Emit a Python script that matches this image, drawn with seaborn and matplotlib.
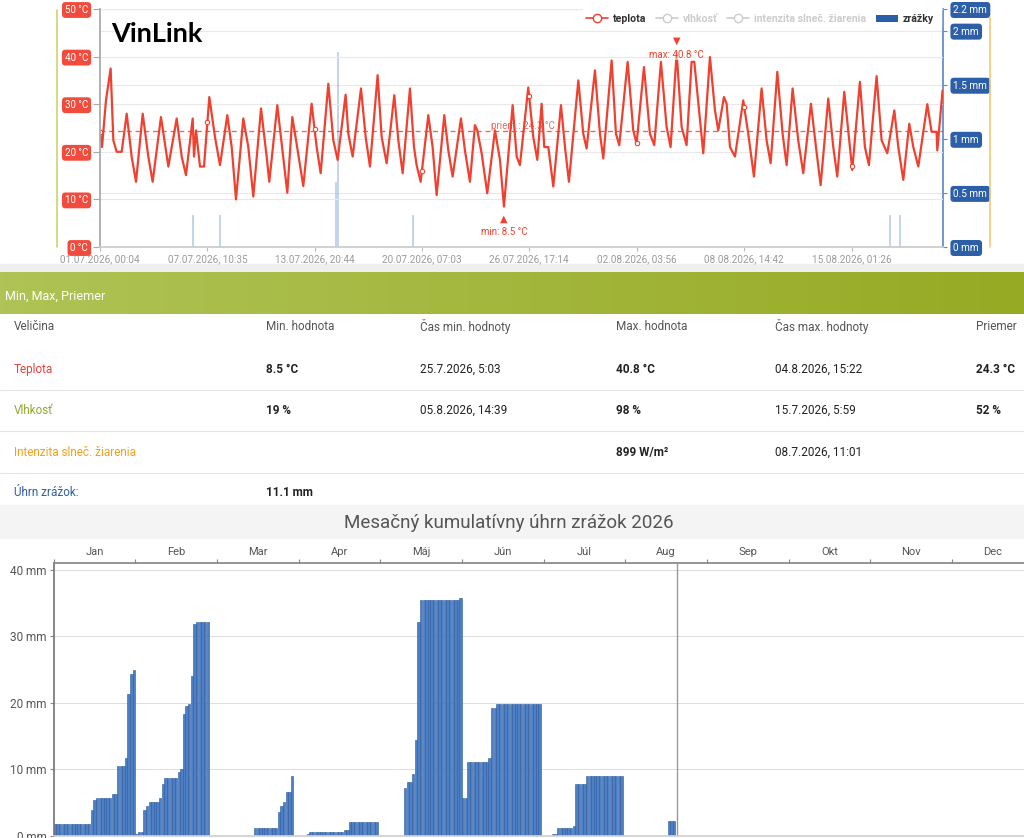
import numpy as np
import pandas as pd
import matplotlib
matplotlib.use("Agg")
import matplotlib.pyplot as plt
import matplotlib.dates as mdates
import seaborn as sns
from matplotlib.lines import Line2D
from matplotlib.patches import Patch, Rectangle
from matplotlib.colors import LinearSegmentedColormap

# ---------------- data: temperature chart ----------------
start_time = "2026-07-01 00:04"
end_time = "2026-08-20 12:35"
temp_hours = [0, 2.9, 8.6, 15.3, 19.2, 24.0, 31.2, 38.4, 45.5, 51.8, 61.4, 69.5, 75.7, 87.7,
              98.3, 110.3, 117.5, 123.7, 133.3, 135.2, 138.1, 143.8, 149.6, 157.2, 165.4, 172.6,
              183.1, 189.4, 195.6, 206.1, 213.3, 220.5, 231.6, 239.7, 243.5, 255.0, 261.3, 269.4,
              276.6, 282.8, 292.4, 304.4, 311.6, 317.4, 328.4, 335.6, 341.8, 353.3, 357.2, 363.4,
              375.4, 382.1, 388.3, 399.3, 405.1, 412.3, 423.3, 429.1, 435.3, 445.8, 451.6, 455.4,
              461.2, 472.2, 478.4, 484.2, 495.2, 501.0, 507.2, 519.2, 524.9, 532.1, 539.3, 542.7,
              548.9, 557.0, 568.1, 575.3, 581.0, 593.5, 599.3, 604.0, 616.0, 623.2, 629.0, 635.2,
              639.0, 644.8, 652.0, 663.0, 668.8, 674.5, 688.0, 695.1, 699.9, 711.9, 719.1, 723.9,
              735.9, 742.1, 746.9, 758.9, 767.0, 771.8, 782.4, 791.0, 797.2, 806.8, 815.0, 820.7,
              829.4, 836.6, 843.7, 850.9, 854.8, 867.7, 877.3, 884.5, 889.3, 897.4, 901.3, 906.1,
              913.3, 925.2, 932.4, 940.6, 951.6, 958.8, 964.6, 974.2, 981.8, 987.6, 996.2, 1004.3,
              1011.5, 1022.6, 1029.8, 1036.5, 1047.5, 1054.7, 1060.4, 1070.5, 1077.7, 1082.0, 1093.0,
              1100.2, 1106.0, 1117.0, 1124.2, 1132.4, 1142.5, 1148.2, 1155.4, 1164.0, 1169.8, 1177.0,
              1189.9, 1196.1, 1203.3, 1204.3, 1211.9]
temp_values = [24.2, 21.0, 30.8, 37.5, 22.4, 20.0, 20.0, 28.0, 19.0, 13.7, 28.0, 19.0, 13.7, 27.3,
               16.9, 27.0, 19.0, 15.1, 27.0, 19.0, 24.5, 16.9, 16.9, 31.5, 23.1, 17.2,
               27.7, 21.0, 10.0, 27.0, 21.0, 10.6, 29.1, 19.0, 13.7, 29.8, 21.7, 11.4,
               27.3, 21.7, 12.8, 30.1, 21.0, 15.5, 34.3, 22.4, 18.3, 32.0, 23.8, 19.0,
               33.3, 23.1, 16.9, 36.1, 23.1, 17.6, 31.9, 22.4, 15.5, 33.3, 21.0, 17.2,
               13.7, 27.7, 21.0, 10.9, 27.7, 20.3, 14.8, 27.0, 20.3, 13.7, 25.6, 24.5,
               19.7, 11.3, 24.5, 18.3, 8.5, 29.8, 19.0, 17.2, 33.5, 23.1, 18.3, 30.1,
               21.0, 21.0, 12.7, 29.8, 21.0, 13.7, 35.0, 23.8, 20.7, 37.1, 23.8, 18.6,
               39.2, 23.8, 21.4, 38.9, 24.5, 21.7, 37.8, 23.8, 21.4, 38.9, 25.2, 21.0,
               40.8, 25.2, 21.4, 38.9, 38.9, 19.7, 39.9, 28.7, 24.5, 31.5, 30.1, 21.0,
               19.0, 30.8, 23.8, 14.8, 33.3, 22.4, 17.6, 36.8, 23.8, 17.2, 33.3, 22.4,
               15.5, 30.1, 21.0, 13.0, 31.2, 21.0, 14.8, 32.6, 22.4, 16.2, 34.7,
               21.0, 17.2, 35.9, 22.4, 19.7, 28.7, 21.0, 14.1, 25.9, 21.0, 16.9,
               30.0, 24.2, 24.2, 20.3, 32.9]
temp_avg = 24.3
rain_hours = [133.8, 172.6, 339.4, 342.3, 450.2, 1136.2, 1150.7]
rain_mm = [0.3, 0.3, 0.6, 1.8, 0.3, 0.3, 0.3]
x_tick_labels = ["01.07.2026, 00:04", "07.07.2026, 10:35", "13.07.2026, 20:44",
                 "20.07.2026, 07:03", "26.07.2026, 17:14", "02.08.2026, 03:56",
                 "08.08.2026, 14:42", "15.08.2026, 01:26"]
temp_ticks = [0, 10, 20, 30, 40, 50]
rain_ticks = [0, 0.5, 1, 1.5, 2, 2.2]
legend_labels = ["teplota", "vlhkosť", "intenzita slneč. žiarenia", "zrážky"]
brand = "VinLink"

# ---------------- data: table ----------------
table_title = "Min, Max, Priemer"
table_header = ["Veličina", "Min. hodnota", "Čas min. hodnoty", "Max. hodnota", "Čas max. hodnoty", "Priemer"]
row_teplota = ["Teplota", "8.5 °C", "25.7.2026, 5:03", "40.8 °C", "04.8.2026, 15:22", "24.3 °C"]
row_vlhkost = ["Vlhkosť", "19 %", "05.8.2026, 14:39", "98 %", "15.7.2026, 5:59", "52 %"]
row_ziarenie = ["Intenzita slneč. žiarenia", "", "", "899 W/m²", "08.7.2026, 11:01", ""]
row_zrazky = ["Úhrn zrážok:", "11.1 mm", "", "", "", ""]

# ---------------- data: monthly cumulative rain ----------------
bar_title = "Mesačný kumulatívny úhrn zrážok 2026"
months = ["Jan", "Feb", "Mar", "Apr", "Máj", "Jún", "Júl", "Aug", "Sep", "Okt", "Nov", "Dec"]
jan_mm = [1.8, 1.8, 1.8, 1.8, 1.8, 1.8, 1.8, 1.8, 1.8, 1.8, 1.8, 1.8, 1.8, 1.8, 3.9, 5.4,
          5.7, 5.7, 5.7, 5.7, 5.7, 5.7, 6.3, 6.3, 10.5, 10.5, 10.5, 11.7, 21.3, 24.3, 24.9]
feb_mm = [0.3, 0.6, 0.6, 3.9, 4.5, 5.1, 5.1, 5.1, 5.1, 5.7, 7.8, 8.7, 8.7, 8.7, 8.7, 8.7,
          9.6, 10.0, 18.3, 19.5, 19.8, 24.0, 31.8, 32.1, 32.1, 32.1, 32.1, 32.1]
mar_mm = [0, 0, 0, 0, 0, 0, 0, 0, 0, 0, 0, 0, 0, 0, 1.2, 1.2, 1.2, 1.2, 1.2, 1.2, 1.2, 1.2,
          1.2, 3.6, 4.5, 5.1, 6.6, 6.6, 9.0, 0, 0]
apr_mm = [0, 0, 0, 0.3, 0.6, 0.6, 0.6, 0.6, 0.6, 0.6, 0.6, 0.6, 0.6, 0.6, 0.6, 0.6, 0.6,
          0.9, 0.9, 2.1, 2.1, 2.1, 2.1, 2.1, 2.1, 2.1, 2.1, 2.1, 2.1, 2.1]
may_mm = [0, 0, 0, 0, 0, 0, 0, 0, 0, 7.2, 8.1, 8.1, 9.3, 14.4, 32.1, 35.4, 35.4, 35.4, 35.4,
          35.4, 35.4, 35.4, 35.4, 35.4, 35.4, 35.4, 35.4, 35.4, 35.4, 35.4, 35.7]
jun_mm = [5.7, 5.7, 11.1, 11.1, 11.1, 11.1, 11.1, 11.1, 11.1, 11.1, 11.7, 19.2, 19.2, 19.8,
          19.8, 19.8, 19.8, 19.8, 19.8, 19.8, 19.8, 19.8, 19.8, 19.8, 19.8, 19.8, 19.8, 19.8,
          19.8, 19.8]
jul_mm = [0, 0, 0, 0.3, 0.3, 1.2, 1.2, 1.2, 1.2, 1.2, 1.2, 1.5, 7.8, 7.8, 7.8, 7.8, 9.0, 9.0,
          9.0, 9.0, 9.0, 9.0, 9.0, 9.0, 9.0, 9.0, 9.0, 9.0, 9.0, 9.0, 0]
aug_mm = [0, 0, 0, 0, 0, 0, 0, 0, 0, 0, 0, 0, 0, 0, 0, 0, 2.2, 2.2, 2.2]
monthly_mm = [jan_mm, feb_mm, mar_mm, apr_mm, may_mm, jun_mm, jul_mm, aug_mm]
bar_ticks = [0, 10, 20, 30, 40]

# ---------------- style ----------------
RED = "#f0402f"
BLUE = "#2b5ea8"
W, H = 1024, 838
sns.set_theme(style="white")
plt.rcParams["font.family"] = ["Roboto", "DejaVu Sans"]

fig = plt.figure(figsize=(W / 100, H / 100), dpi=100)
fig.patch.set_facecolor("white")


def box(l, t, r, b):
    return [l / W, 1 - b / H, (r - l) / W, (b - t) / H]


def fy(y):
    return 1 - y / H


# ================= top chart =================
t0 = pd.Timestamp(start_time)
t1 = pd.Timestamp(end_time)
temp_df = pd.DataFrame({"time": t0 + pd.to_timedelta(temp_hours, unit="h"), "temp": temp_values})
rain_times = t0 + pd.to_timedelta(rain_hours, unit="h")
tick_times = pd.to_datetime(x_tick_labels, format="%d.%m.%Y, %H:%M")

ax = fig.add_axes(box(100, 9, 943, 247))
ax2 = ax.twinx()
ax.set_zorder(2)
ax.patch.set_visible(False)

sns.lineplot(data=temp_df, x="time", y="temp", ax=ax, color=RED, linewidth=1.6)
ax.set_xlim(t0, t1)
ax.set_ylim(0, 50)
ax.set_xlabel("")
ax.set_ylabel("")
ax.axhline(temp_avg, color=RED, lw=0.9, ls=(0, (4, 3)), alpha=0.85)

# hollow markers at tick times
tick_h = (tick_times - t0) / pd.Timedelta(hours=1)
mk_y = np.interp(np.asarray(tick_h, dtype=float), temp_hours, temp_values)
ax.plot(mdates.date2num(tick_times), mk_y, ls="none", marker="o", ms=3.2,
        mfc="white", mec=RED, mew=0.8)

ax2.vlines(rain_times, 0, rain_mm, color="#6f97d2", lw=1.3, alpha=0.45)
ax2.set_ylim(0, 2.2)

ax.set_yticks(temp_ticks)
ax.set_yticklabels([f"{v} °C" for v in temp_ticks])
ax2.set_yticks(rain_ticks)
ax2.set_yticklabels([f"{v:g} mm" for v in rain_ticks])
ax.set_xticks(mdates.date2num(tick_times))
ax.set_xticklabels(x_tick_labels)

ax.grid(axis="y", color="#e8e8e8", lw=0.8)
ax.grid(axis="x", visible=False)
ax2.grid(axis="y", color="#e8e8e8", lw=0.8)
ax2.grid(axis="x", visible=False)

for s in ["top", "right"]:
    ax.spines[s].set_visible(False)
ax.spines["left"].set_color("#a8a8a8")
ax.spines["bottom"].set_color("#cccccc")
for s in ["top", "left", "bottom"]:
    ax2.spines[s].set_visible(False)
ax2.spines["right"].set_color("#5b8ad0")

ax.tick_params(axis="y", left=True, length=5, width=0.8, color="#a8a8a8", pad=3.5,
               labelsize=7, labelcolor="white")
ax.tick_params(axis="x", bottom=True, length=3, width=0.8, color="#bbbbbb", pad=2,
               labelsize=7.2, labelcolor="#9a9a9a")
ax2.tick_params(axis="y", right=True, length=3, width=0.8, color="#5b8ad0", pad=4.5,
                labelsize=7.2, labelcolor="white")
for lbl in ax.get_yticklabels():
    lbl.set_bbox(dict(boxstyle="round,pad=0.3,rounding_size=0.35", fc="#f04b3c", ec="none"))
for lbl in ax2.get_yticklabels():
    lbl.set_bbox(dict(boxstyle="round,pad=0.3,rounding_size=0.35", fc="#2d5fa8", ec="none"))

# min / max / average annotations
i_max = int(np.argmax(temp_values))
i_min = int(np.argmin(temp_values))
x_max = mdates.date2num(temp_df["time"].iloc[i_max])
x_min = mdates.date2num(temp_df["time"].iloc[i_min])
v_max = temp_values[i_max]
v_min = temp_values[i_min]
ax.annotate(f"max: {v_max} °C", xy=(x_max, v_max), xytext=(0, -1.5), textcoords="offset points",
            ha="center", va="center", color=RED, fontsize=7, annotation_clip=False,
            bbox=dict(boxstyle="square,pad=0.05", fc="white", ec="none", alpha=0.6))
ax.annotate("▼", xy=(x_max, v_max), xytext=(0, 8.5), textcoords="offset points",
            ha="center", va="center", color=RED, fontsize=7, family="DejaVu Sans",
            annotation_clip=False)
ax.annotate(f"min: {v_min} °C", xy=(x_min, v_min), xytext=(0, -18.5), textcoords="offset points",
            ha="center", va="center", color=RED, fontsize=7, annotation_clip=False)
ax.annotate("▲", xy=(x_min, v_min), xytext=(0, -8.5), textcoords="offset points",
            ha="center", va="center", color=RED, fontsize=7, family="DejaVu Sans",
            annotation_clip=False)
ax.text(0.54, temp_avg, f"priem.: {temp_avg} °C", transform=ax.get_yaxis_transform(),
        ha="right", va="bottom", color=RED, fontsize=7, alpha=0.8)

# side decorations (hidden series axes)
fig.add_artist(Line2D([57 / W, 57 / W], [fy(10), fy(247)], color="#c9d670", lw=1.2))
fig.add_artist(Line2D([990 / W, 990 / W], [fy(17), fy(247)], color="#f7c877", lw=1.2))

# legend
fig.add_artist(Rectangle((583 / W, fy(27)), (941 - 583) / W, 27 / H, transform=fig.transFigure,
                         color="white", zorder=3))
handles = [
    Line2D([], [], color=RED, lw=1.2, marker="o", ms=6, mfc="white", mec=RED),
    Line2D([], [], color="#cccccc", lw=1.2, marker="o", ms=6, mfc="white", mec="#cccccc"),
    Line2D([], [], color="#cccccc", lw=1.2, marker="o", ms=6, mfc="white", mec="#cccccc"),
    Patch(facecolor=BLUE, edgecolor="none"),
]
leg = fig.legend(handles, legend_labels, loc="center left", bbox_to_anchor=(586 / W, fy(19)),
                 ncol=4, frameon=False, handlelength=2.1, handletextpad=0.45, columnspacing=0.9,
                 borderaxespad=0, borderpad=0,
                 prop={"family": "Roboto", "weight": "bold", "size": 7.6})
leg.set_zorder(4)
for txt, c in zip(leg.get_texts(), ["#333333", "#cccccc", "#cccccc", "#333333"]):
    txt.set_color(c)

fig.text(111 / W, fy(34), brand, fontsize=19.5, weight="bold", family=["Lato", "DejaVu Sans"],
         va="center", ha="left", color="black")

# ================= table =================
fig.add_artist(Rectangle((0, fy(272)), 1, 8 / H, transform=fig.transFigure, color="#efefef", zorder=0))
axg = fig.add_axes(box(0, 272, 1024, 314))
grad = np.linspace(0, 1, 256).reshape(1, -1)
axg.imshow(grad, aspect="auto", cmap=LinearSegmentedColormap.from_list("g", ["#afc356", "#97aa24"]))
axg.set_axis_off()
fig.text(5 / W, fy(296), table_title, color="white", fontsize=9, va="center", ha="left")

col_x = [14, 266, 420, 616, 775, 976]
for x, t in zip(col_x, table_header):
    fig.text(x / W, fy(327), t, color="#555555", fontsize=8.5, va="center", ha="left")

rows = [row_teplota, row_vlhkost, row_ziarenie, row_zrazky]
row_y = [369, 410, 452, 493]
row_colors = ["#e8403a", "#8fa82b", "#f5a01a", "#2f5ea5"]
bold_cols = [1, 3, 5]
for row, y, c in zip(rows, row_y, row_colors):
    for j, (x, t) in enumerate(zip(col_x, row)):
        if not t:
            continue
        if j == 0:
            fig.text(x / W, fy(y), t, color=c, fontsize=8.5, va="center", ha="left")
        else:
            fig.text(x / W, fy(y), t, color="#222222", fontsize=8.5, va="center", ha="left",
                     weight="bold" if j in bold_cols else "normal")
for y in [390, 431.5, 473]:
    fig.add_artist(Line2D([0, 1], [fy(y), fy(y)], color="#e3e3e3", lw=0.8))

# ================= monthly cumulative bar chart =================
fig.add_artist(Rectangle((0, fy(538)), 1, 33 / H, transform=fig.transFigure, color="#f4f4f4", zorder=0))
fig.text(509 / W, fy(523), bar_title, ha="center", va="center", fontsize=13.5, color="#555555")

slot_pos, slot_val = [], []
for m, vals in enumerate(monthly_mm):
    for d, v in enumerate(vals):
        slot_pos.append(m * 31 + d + 0.5)
        slot_val.append(v)
bar_df = pd.DataFrame({"slot": slot_pos, "mm": slot_val})

ax3 = fig.add_axes(box(53.6, 562.7, 53.6 + 12 * 81.67, 836))
sns.barplot(data=bar_df, x="slot", y="mm", native_scale=True, width=0.9, color="#4d7fc5",
            edgecolor="#2a5a9e", linewidth=0.4, saturation=1, errorbar=None, ax=ax3)
ax3.set_xlim(0, 12 * 31)
ax3.set_ylim(0, 41.05)
ax3.set_xlabel("")
ax3.set_ylabel("")

today_slot = 7 * 31 + (t1.day - 1) + (t1.hour + t1.minute / 60) / 24
ax3.axvline(today_slot, color="#999999", lw=1.0)

ax3.xaxis.tick_top()
ax3.set_xticks([31 * k for k in range(13)])
ax3.set_xticklabels([""] * 13)
ax3.set_xticks([31 * k + 15.5 for k in range(12)], minor=True)
ax3.set_xticklabels(months, minor=True)
ax3.tick_params(axis="x", which="major", top=True, bottom=False, length=3, width=0.8,
                color="#888888", direction="out")
ax3.tick_params(axis="x", which="minor", top=True, bottom=False, length=0, labeltop=True,
                labelbottom=False, labelsize=8, labelcolor="#555555", pad=4)
ax3.set_yticks(bar_ticks)
ax3.set_yticklabels([f"{v} mm" for v in bar_ticks])
ax3.tick_params(axis="y", left=True, length=3, width=0.8, color="#888888", labelsize=8.5,
                labelcolor="#555555", pad=2)
ax3.grid(axis="y", color="#dcdcdc", lw=0.7)
ax3.grid(axis="x", visible=False)
ax3.spines["right"].set_visible(False)
ax3.spines["left"].set_color("#777777")
ax3.spines["top"].set_color("#888888")
ax3.spines["bottom"].set_color("#d0d0d0")

fig.savefig("out.png", dpi=100, facecolor="white")
